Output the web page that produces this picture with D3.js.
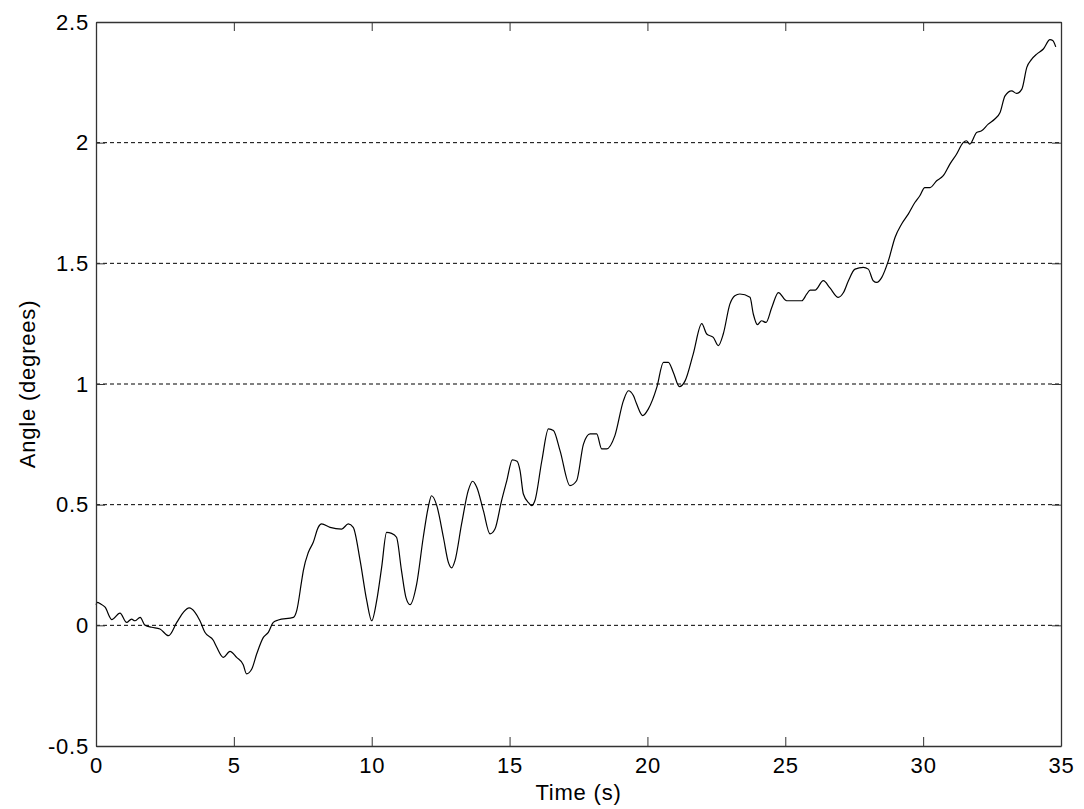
<!DOCTYPE html>
<html>
<head>
<meta charset="utf-8">
<script src="https://cdn.jsdelivr.net/npm/d3@7"></script>
<style>
  body { margin: 0; background: #fff; }
  text { font-family: "Liberation Sans", Arial, sans-serif; }
</style>
</head>
<body>
<script>
"use strict";

// time (s) and angle (degrees)
const times = [0, 0.05, 0.15, 0.33, 0.57, 0.87, 1.11, 1.29, 1.41, 1.6, 1.78, 2.02, 2.32, 2.63, 2.93, 3.17, 3.38, 3.59,
  3.77, 3.95, 4.26, 4.38, 4.62, 4.86, 5.1, 5.34, 5.46, 5.65, 5.83, 6.07, 6.25, 6.43, 6.61, 7.16, 7.28, 7.46, 7.52,
  7.7, 7.88, 8.06, 8.18, 8.49, 8.91, 9.15, 9.33, 9.58, 9.82, 10.0, 10.18, 10.36, 10.54, 10.72, 10.9, 11.08, 11.24,
  11.39, 11.63, 11.87, 12.05, 12.17, 12.36, 12.6, 12.78, 12.9, 13.02, 13.26, 13.5, 13.66, 13.81, 14.05, 14.29,
  14.47, 14.71, 14.9, 15.1, 15.27, 15.38, 15.5, 15.71, 15.8, 15.92, 16.17, 16.41, 16.59, 16.83, 17.19, 17.43, 17.68,
  17.92, 18.16, 18.34, 18.52, 18.82, 19.13, 19.31, 19.49, 19.61, 19.83, 20.03, 20.34, 20.58, 20.76, 20.94, 21.16,
  21.37, 21.66, 21.97, 22.15, 22.39, 22.57, 22.75, 22.99, 23.17, 23.35, 23.72, 23.84, 23.99, 24.14, 24.3, 24.51,
  24.75, 25.05, 25.42, 25.6, 25.78, 25.9, 26.08, 26.38, 26.62, 26.92, 27.11, 27.29, 27.53, 27.83, 28.01, 28.19,
  28.32, 28.5, 28.74, 28.98, 29.22, 29.46, 29.7, 29.88, 30.06, 30.25, 30.49, 30.73, 30.97, 31.21, 31.45, 31.57,
  31.69, 31.94, 32.12, 32.36, 32.6, 32.79, 32.97, 33.21, 33.39, 33.58, 33.76, 33.94, 34.12, 34.36, 34.6, 34.7, 34.81];
const angles = [0.085, 0.095, 0.09, 0.075, 0.024, 0.051, 0.012, 0.026, 0.019, 0.033, 0.0, -0.008, -0.015, -0.043,
  0.012, 0.054, 0.072, 0.054, 0.019, -0.029, -0.063, -0.091, -0.133, -0.108, -0.133, -0.163, -0.201, -0.181, -0.118,
  -0.05, -0.029, 0.012, 0.022, 0.033, 0.061, 0.185, 0.227, 0.302, 0.344, 0.406, 0.42, 0.406, 0.399, 0.42, 0.406,
  0.268, 0.102, 0.019, 0.102, 0.24, 0.385, 0.381, 0.365, 0.227, 0.116, 0.086, 0.171, 0.365, 0.489, 0.537, 0.496,
  0.365, 0.261, 0.238, 0.268, 0.42, 0.558, 0.597, 0.572, 0.475, 0.379, 0.399, 0.517, 0.6, 0.686, 0.68, 0.641,
  0.544, 0.505, 0.496, 0.517, 0.682, 0.814, 0.807, 0.724, 0.579, 0.599, 0.751, 0.793, 0.793, 0.731, 0.731, 0.786,
  0.931, 0.972, 0.952, 0.917, 0.869, 0.896, 0.986, 1.09, 1.09, 1.048, 0.989, 1.014, 1.124, 1.25, 1.207, 1.193,
  1.159, 1.207, 1.331, 1.366, 1.373, 1.359, 1.29, 1.246, 1.262, 1.255, 1.317, 1.379, 1.345, 1.345, 1.345, 1.373,
  1.389, 1.389, 1.428, 1.398, 1.359, 1.379, 1.428, 1.476, 1.483, 1.476, 1.428, 1.421, 1.442, 1.511, 1.607, 1.663,
  1.704, 1.752, 1.78, 1.814, 1.814, 1.842, 1.863, 1.911, 1.952, 2.0, 2.008, 1.994, 2.042, 2.049, 2.077, 2.098,
  2.125, 2.194, 2.215, 2.204, 2.222, 2.312, 2.346, 2.367, 2.388, 2.427, 2.423, 2.397];

const xTicks = [0, 5, 10, 15, 20, 25, 30, 35];
const yTicks = [-0.5, 0, 0.5, 1, 1.5, 2, 2.5];
const gridLevels = [0, 0.5, 1, 1.5, 2];

const W = 1084, H = 809;
const m = {left: 96, top: 22, right: 23, bottom: 63};
const w = W - m.left - m.right, h = H - m.top - m.bottom;
const fs = 22;

const svg = d3.select("body").append("svg")
    .attr("width", W).attr("height", H);
const g = svg.append("g").attr("transform", `translate(${m.left},${m.top})`);

const x = d3.scaleLinear().domain([0, 35]).range([0, w]);
const y = d3.scaleLinear().domain([-0.5, 2.5]).range([h, 0]);

// dashed grid lines
g.selectAll("line.grid").data(gridLevels).enter().append("line")
    .attr("class", "grid")
    .attr("x1", 0).attr("x2", w)
    .attr("y1", d => y(d)).attr("y2", d => y(d))
    .attr("stroke", "#000").attr("stroke-width", 1)
    .attr("stroke-dasharray", "4,3");

// data line
const pts = times.map((t, i) => [t, angles[i]]);
g.append("path").datum(pts)
    .attr("fill", "none").attr("stroke", "#000").attr("stroke-width", 1.2)
    .attr("d", d3.line().curve(d3.curveMonotoneX).x(d => x(d[0])).y(d => y(d[1])));

// axes with inward ticks
const tl = 9;
const fmt = d => String(d);
const axBottom = g.append("g").attr("transform", `translate(0,${h})`)
    .call(d3.axisBottom(x).tickValues(xTicks).tickSizeInner(-tl).tickSizeOuter(0).tickPadding(11).tickFormat(fmt));
const axTop = g.append("g")
    .call(d3.axisTop(x).tickValues(xTicks).tickSizeInner(-tl).tickSizeOuter(0).tickFormat(""));
const axLeft = g.append("g")
    .call(d3.axisLeft(y).tickValues(yTicks).tickSizeInner(-tl).tickSizeOuter(0).tickPadding(7).tickFormat(fmt));
const axRight = g.append("g").attr("transform", `translate(${w},0)`)
    .call(d3.axisRight(y).tickValues(yTicks).tickSizeInner(-tl).tickSizeOuter(0).tickFormat(""));

[axBottom, axTop, axLeft, axRight].forEach(a => {
  a.attr("font-size", fs).attr("font-family", "Liberation Sans, Arial, sans-serif");
  a.select(".domain").attr("stroke", "#333").attr("stroke-width", 1.3);
  a.selectAll(".tick line").attr("stroke", "#333");
  a.selectAll("text").attr("fill", "#000").style("letter-spacing", "0.8px");
});

// axis titles
svg.append("text")
    .attr("x", m.left + w / 2).attr("y", 800)
    .attr("text-anchor", "middle").attr("font-size", fs)
    .style("letter-spacing", "0.8px")
    .text("Time (s)");
svg.append("text")
    .attr("transform", `translate(35,${m.top + h / 2}) rotate(-90)`)
    .attr("text-anchor", "middle").attr("font-size", fs)
    .style("letter-spacing", "0.8px")
    .text("Angle (degrees)");
</script>
</body>
</html>
